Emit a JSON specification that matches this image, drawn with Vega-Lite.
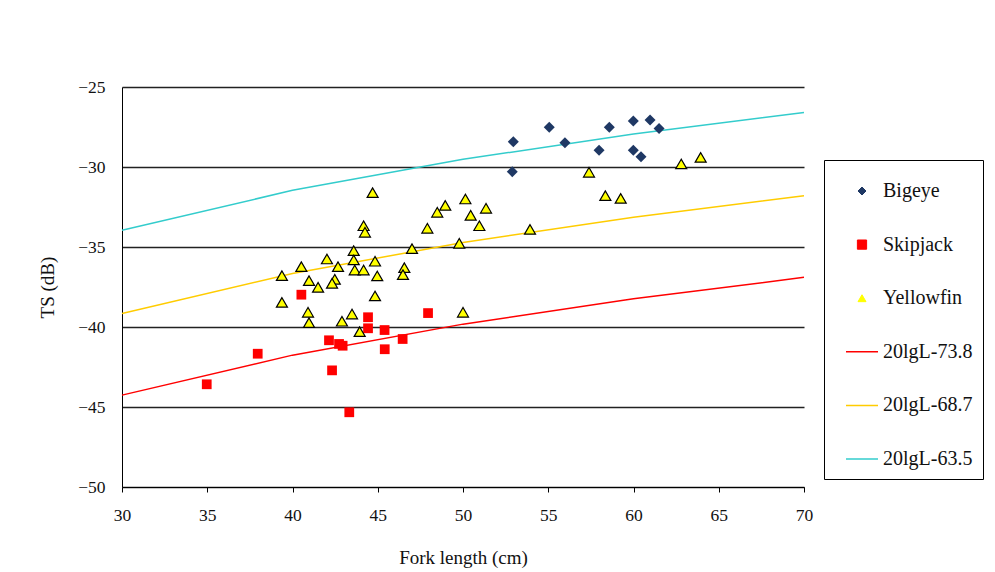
{
  "$schema": "https://vega.github.io/schema/vega-lite/v6.json",
  "width": 682,
  "height": 400,
  "autosize": "none",
  "padding": {"left": 122, "top": 87, "right": 191, "bottom": 85},
  "background": "white",
  "config": {
    "font": "Liberation Serif",
    "view": {"stroke": null},
    "axis": {"labelFont": "Liberation Serif", "titleFont": "Liberation Serif", "labelColor": "#111", "titleColor": "#111", "labelFontSize": 17.5, "titleFontSize": 19, "titleFontWeight": "normal", "domainColor": "#000", "tickColor": "#000"}
  },
  "datasets": {
    "fish": [
      {"species": "Bigeye", "L": 52.95, "TS": -28.42},
      {"species": "Bigeye", "L": 52.89, "TS": -30.29},
      {"species": "Bigeye", "L": 55.06, "TS": -27.52},
      {"species": "Bigeye", "L": 55.98, "TS": -28.48},
      {"species": "Bigeye", "L": 57.98, "TS": -28.96},
      {"species": "Bigeye", "L": 58.58, "TS": -27.52},
      {"species": "Bigeye", "L": 59.99, "TS": -27.13},
      {"species": "Bigeye", "L": 59.99, "TS": -28.96},
      {"species": "Bigeye", "L": 60.44, "TS": -29.36},
      {"species": "Bigeye", "L": 60.97, "TS": -27.06},
      {"species": "Bigeye", "L": 61.5, "TS": -27.6},
      {"species": "Skipjack", "L": 40.52, "TS": -37.98},
      {"species": "Skipjack", "L": 47.95, "TS": -39.13},
      {"species": "Skipjack", "L": 44.43, "TS": -39.39},
      {"species": "Skipjack", "L": 44.43, "TS": -40.08},
      {"species": "Skipjack", "L": 45.4, "TS": -40.19},
      {"species": "Skipjack", "L": 46.46, "TS": -40.75},
      {"species": "Skipjack", "L": 42.14, "TS": -40.83},
      {"species": "Skipjack", "L": 42.73, "TS": -41.06},
      {"species": "Skipjack", "L": 42.94, "TS": -41.17},
      {"species": "Skipjack", "L": 45.41, "TS": -41.39},
      {"species": "Skipjack", "L": 37.96, "TS": -41.67},
      {"species": "Skipjack", "L": 42.32, "TS": -42.71},
      {"species": "Skipjack", "L": 34.97, "TS": -43.58},
      {"species": "Skipjack", "L": 43.33, "TS": -45.33},
      {"species": "Yellowfin", "L": 57.39, "TS": -30.33},
      {"species": "Yellowfin", "L": 58.35, "TS": -31.79},
      {"species": "Yellowfin", "L": 59.25, "TS": -31.96},
      {"species": "Yellowfin", "L": 62.8, "TS": -29.81},
      {"species": "Yellowfin", "L": 63.94, "TS": -29.4},
      {"species": "Yellowfin", "L": 53.93, "TS": -33.9},
      {"species": "Yellowfin", "L": 44.7, "TS": -31.6},
      {"species": "Yellowfin", "L": 48.96, "TS": -32.4},
      {"species": "Yellowfin", "L": 50.14, "TS": -32.0},
      {"species": "Yellowfin", "L": 48.49, "TS": -32.83},
      {"species": "Yellowfin", "L": 51.35, "TS": -32.58},
      {"species": "Yellowfin", "L": 50.45, "TS": -33.02},
      {"species": "Yellowfin", "L": 50.96, "TS": -33.67},
      {"species": "Yellowfin", "L": 44.17, "TS": -33.67},
      {"species": "Yellowfin", "L": 44.25, "TS": -34.08},
      {"species": "Yellowfin", "L": 47.91, "TS": -33.83},
      {"species": "Yellowfin", "L": 49.78, "TS": -34.77},
      {"species": "Yellowfin", "L": 47.01, "TS": -35.1},
      {"species": "Yellowfin", "L": 43.59, "TS": -35.23},
      {"species": "Yellowfin", "L": 43.59, "TS": -35.81},
      {"species": "Yellowfin", "L": 42.02, "TS": -35.75},
      {"species": "Yellowfin", "L": 40.52, "TS": -36.23},
      {"species": "Yellowfin", "L": 42.67, "TS": -36.23},
      {"species": "Yellowfin", "L": 44.84, "TS": -35.89},
      {"species": "Yellowfin", "L": 43.65, "TS": -36.44},
      {"species": "Yellowfin", "L": 44.17, "TS": -36.44},
      {"species": "Yellowfin", "L": 46.56, "TS": -36.29},
      {"species": "Yellowfin", "L": 46.48, "TS": -36.73},
      {"species": "Yellowfin", "L": 44.97, "TS": -36.81},
      {"species": "Yellowfin", "L": 39.38, "TS": -36.79},
      {"species": "Yellowfin", "L": 40.97, "TS": -37.1},
      {"species": "Yellowfin", "L": 42.48, "TS": -37.02},
      {"species": "Yellowfin", "L": 42.32, "TS": -37.27},
      {"species": "Yellowfin", "L": 41.5, "TS": -37.52},
      {"species": "Yellowfin", "L": 44.84, "TS": -38.06},
      {"species": "Yellowfin", "L": 39.38, "TS": -38.46},
      {"species": "Yellowfin", "L": 40.91, "TS": -39.08},
      {"species": "Yellowfin", "L": 43.49, "TS": -39.19},
      {"species": "Yellowfin", "L": 50.0, "TS": -39.08},
      {"species": "Yellowfin", "L": 40.97, "TS": -39.73},
      {"species": "Yellowfin", "L": 42.9, "TS": -39.64},
      {"species": "Yellowfin", "L": 43.94, "TS": -40.29}
    ],
    "models": [
      {"species": "20lgL-73.8", "L": 30, "TS": -44.258},
      {"species": "20lgL-73.8", "L": 40, "TS": -41.759},
      {"species": "20lgL-73.8", "L": 50, "TS": -39.821},
      {"species": "20lgL-73.8", "L": 60, "TS": -38.237},
      {"species": "20lgL-73.8", "L": 70, "TS": -36.898},
      {"species": "20lgL-68.7", "L": 30, "TS": -39.158},
      {"species": "20lgL-68.7", "L": 40, "TS": -36.659},
      {"species": "20lgL-68.7", "L": 50, "TS": -34.721},
      {"species": "20lgL-68.7", "L": 60, "TS": -33.137},
      {"species": "20lgL-68.7", "L": 70, "TS": -31.798},
      {"species": "20lgL-63.5", "L": 30, "TS": -33.958},
      {"species": "20lgL-63.5", "L": 40, "TS": -31.459},
      {"species": "20lgL-63.5", "L": 50, "TS": -29.521},
      {"species": "20lgL-63.5", "L": 60, "TS": -27.937},
      {"species": "20lgL-63.5", "L": 70, "TS": -26.598}
    ]
  },
  "encoding": {
    "x": {
      "field": "L", "type": "quantitative",
      "scale": {"domain": [30, 70], "nice": false, "zero": false},
      "axis": {"title": "Fork length (cm)", "values": [30, 35, 40, 45, 50, 55, 60, 65, 70], "tickSize": 5, "labelPadding": 14, "grid": false, "titleY": 70, "titleBaseline": "middle", "labelFlush": false}
    },
    "y": {
      "field": "TS", "type": "quantitative",
      "scale": {"domain": [-50, -25], "nice": false, "zero": false},
      "axis": {"title": "TS (dB)", "values": [-50, -45, -40, -35, -30, -25], "tickSize": 0, "labelPadding": 17, "grid": true, "gridColor": "#222", "gridWidth": 1.3, "titleX": -75, "titleY": 200, "titleBaseline": "middle", "titleAngle": -90, "labelFlush": false}
    },
    "color": {
      "field": "species", "type": "nominal",
      "scale": {
        "domain": ["Bigeye", "Skipjack", "Yellowfin", "20lgL-73.8", "20lgL-68.7", "20lgL-63.5"],
        "range": ["#1F3864", "#FF0000", "#FFFF00", "#FF0000", "#FFCC00", "#33CCCC"]
      },
      "legend": {
        "title": " ",
        "titleFontSize": 8,
        "titlePadding": 4,
        "orient": "none",
        "legendX": 702,
        "legendY": 73,
        "padding": 10,
        "strokeColor": "#000",
        "fillColor": "white",
        "symbolSize": 1024,
        "symbolOffset": 18,
        "labelOffset": 11,
        "labelFont": "Liberation Serif",
        "labelFontSize": 20,
        "labelColor": "#111",
        "clipHeight": 18,
        "rowPadding": 33.6,
        "symbolOpacity": 1,
        "encode": {
          "symbols": {
            "update": {
              "fill": {"signal": "indexof(['Bigeye','Skipjack','Yellowfin'], datum.value) >= 0 ? scale('color', datum.value) : 'transparent'"},
              "stroke": {"signal": "datum.value === 'Yellowfin' ? '#000000' : (indexof(['Bigeye','Skipjack'], datum.value) >= 0 ? 'transparent' : scale('color', datum.value))"},
              "strokeWidth": {"signal": "indexof(['Bigeye','Skipjack','Yellowfin'], datum.value) >= 0 ? 1 : 1.5"},
              "size": {"signal": "datum.value === 'Skipjack' ? 85 : (indexof(['Bigeye','Yellowfin'], datum.value) >= 0 ? 64 : 1024)"},
              "opacity": {"value": 1}
            }
          }
        }
      }
    }
  },
  "layer": [
    {
      "data": {"name": "models"},
      "mark": {"type": "line", "strokeWidth": 1.5},
      "encoding": {}
    },
    {
      "data": {"name": "fish"},
      "mark": {"type": "point", "filled": true, "opacity": 1},
      "encoding": {
        "shape": {
          "field": "species", "type": "nominal",
          "scale": {
            "domain": ["Bigeye", "Skipjack", "Yellowfin", "20lgL-73.8", "20lgL-68.7", "20lgL-63.5"],
            "range": ["diamond", "square", "triangle-up", "stroke", "stroke", "stroke"]
          },
          "legend": null
        },
        "size": {"condition": {"test": "datum.species === 'Skipjack'", "value": 95}, "value": 121},
        "stroke": {"condition": {"test": "datum.species === 'Yellowfin'", "value": "#000000"}, "value": null},
        "strokeWidth": {"value": 1.2}
      }
    }
  ]
}
